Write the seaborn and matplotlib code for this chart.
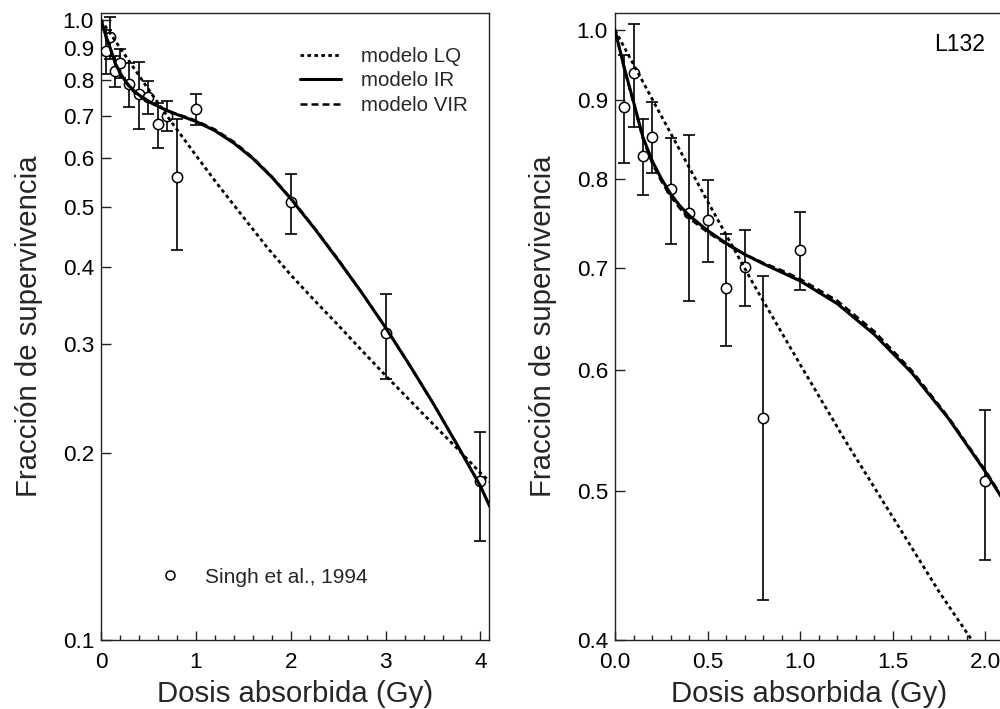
import matplotlib
matplotlib.use("Agg")
import matplotlib.pyplot as plt
from matplotlib.ticker import FixedLocator, NullLocator, MultipleLocator, FixedFormatter
from matplotlib.lines import Line2D
import seaborn as sns
import pandas as pd

# ---- experimental data (Singh et al., 1994) ----
dose = [0.05, 0.1, 0.15, 0.2, 0.3, 0.4, 0.5, 0.6, 0.7, 0.8, 1.0, 2.0, 3.0, 4.0]
surv = [0.891, 0.937, 0.828, 0.852, 0.788, 0.760, 0.752, 0.679, 0.701, 0.558, 0.719, 0.508, 0.313, 0.1805]
err = [0.072, 0.073, 0.047, 0.045, 0.063, 0.094, 0.046, 0.057, 0.040, 0.133, 0.042, 0.057, 0.049, 0.036]

# ---- model curves ----
lq_dose = [0, 0.25, 0.5, 0.75, 1.0, 1.25, 1.5, 1.75, 2.0, 2.25, 2.5, 2.75, 3.0, 3.25, 3.5, 3.75, 4.0, 4.1]
lq_surv = [1.0, 0.879, 0.773, 0.682, 0.605, 0.538, 0.481, 0.430, 0.388, 0.353, 0.322, 0.293,
           0.267, 0.244, 0.223, 0.204, 0.186, 0.180]

ir_dose = [0, 0.05, 0.1, 0.15, 0.2, 0.25, 0.3, 0.35, 0.4, 0.5, 0.6, 0.7, 0.8, 0.9, 1.0,
           1.2, 1.4, 1.6, 1.8, 2.0, 2.25, 2.5, 2.75, 3.0, 3.25, 3.5, 3.75, 4.0, 4.1]
ir_surv = [1.0, 0.945, 0.898, 0.852, 0.822, 0.800, 0.782, 0.768, 0.757, 0.740, 0.726, 0.714, 0.704,
           0.695, 0.686, 0.663, 0.633, 0.598, 0.558, 0.515, 0.461, 0.410, 0.363, 0.319, 0.278,
           0.241, 0.207, 0.177, 0.164]

vir_dose = [0, 0.05, 0.1, 0.15, 0.2, 0.25, 0.3, 0.35, 0.4, 0.5, 0.6, 0.7, 0.8, 0.9, 1.0,
            1.2, 1.4, 1.6, 1.8, 2.0, 2.25, 2.5, 2.75, 3.0, 3.25, 3.5, 3.75, 4.0, 4.1]
vir_surv = [1.0, 0.944, 0.896, 0.850, 0.819, 0.797, 0.779, 0.765, 0.754, 0.738, 0.725, 0.714, 0.705,
            0.697, 0.688, 0.666, 0.636, 0.600, 0.559, 0.516, 0.462, 0.411, 0.363, 0.319, 0.278,
            0.241, 0.207, 0.177, 0.164]

left_yticks = [0.1, 0.2, 0.3, 0.4, 0.5, 0.6, 0.7, 0.8, 0.9, 1.0]
left_yticklabels = ["0.1", "0.2", "0.3", "0.4", "0.5", "0.6", "0.7", "0.8", "0.9", "1.0"]
right_yticks = [0.4, 0.5, 0.6, 0.7, 0.8, 0.9, 1.0]
right_yticklabels = ["0.4", "0.5", "0.6", "0.7", "0.8", "0.9", "1.0"]
left_xticks = [0, 1, 2, 3, 4]
left_xticklabels = ["0", "1", "2", "3", "4"]
right_xticks = [0.0, 0.5, 1.0, 1.5, 2.0]
right_xticklabels = ["0.0", "0.5", "1.0", "1.5", "2.0"]

sns.set_theme(style="ticks")
plt.rcParams["font.family"] = ["Liberation Sans", "DejaVu Sans"]
plt.rcParams["axes.edgecolor"] = "#222222"
plt.rcParams["axes.linewidth"] = 1.0

fig = plt.figure(figsize=(10, 7.09), dpi=100)
axL = fig.add_axes([0.101, 0.0973, 0.388, 0.8843])
axR = fig.add_axes([0.615, 0.0973, 0.389, 0.8843])

df_data = pd.DataFrame({"dose": dose, "surv": surv, "err": err})
df_lq = pd.DataFrame({"dose": lq_dose, "surv": lq_surv})
df_ir = pd.DataFrame({"dose": ir_dose, "surv": ir_surv})
df_vir = pd.DataFrame({"dose": vir_dose, "surv": vir_surv})

dotted = (0, (1.3, 1.2))
dashed = (0, (2.8, 1.6))

for ax in (axL, axR):
    ax.set_yscale("log")
    ax.errorbar(df_data["dose"], df_data["surv"], yerr=df_data["err"], fmt="none",
                ecolor="black", elinewidth=1.2, capsize=4, capthick=1.2, zorder=2)
    sns.scatterplot(data=df_data, x="dose", y="surv", ax=ax, marker="o", s=55,
                    facecolor="white", edgecolor="black", linewidth=1.1, zorder=3)
    sns.lineplot(data=df_lq, x="dose", y="surv", ax=ax, color="black", lw=2.0,
                 linestyle=dotted, errorbar=None, zorder=4, label="modelo LQ")
    sns.lineplot(data=df_ir, x="dose", y="surv", ax=ax, color="black", lw=2.2,
                 errorbar=None, zorder=5, label="modelo IR")
    sns.lineplot(data=df_vir, x="dose", y="surv", ax=ax, color="black", lw=1.8,
                 linestyle=dashed, errorbar=None, zorder=6, label="modelo VIR")
    ax.yaxis.set_minor_locator(NullLocator())
    ax.tick_params(axis="both", which="both", direction="in", top=False, right=False,
                   colors="#222222", labelcolor="black", labelsize=16.2)
    ax.tick_params(axis="y", which="major", length=7, width=1.0, pad=5)
    ax.tick_params(axis="x", which="major", length=6.5, width=1.0, pad=8.5)
    ax.tick_params(axis="x", which="minor", length=3.5, width=1.0)
    ax.set_xlabel("Dosis absorbida (Gy)", fontsize=21.2, labelpad=5)
    ax.set_ylabel("Fracción de supervivencia", fontsize=21.2, labelpad=14)
    for s in ax.spines.values():
        s.set_linewidth(1.0)

axL.set_xlim(0, 4.09)
axL.set_ylim(0.1, 1.026)
axL.yaxis.set_major_locator(FixedLocator(left_yticks))
axL.yaxis.set_major_formatter(FixedFormatter(left_yticklabels))
axL.xaxis.set_major_locator(FixedLocator(left_xticks))
axL.xaxis.set_major_formatter(FixedFormatter(left_xticklabels))
axL.xaxis.set_minor_locator(MultipleLocator(0.2))

axR.set_xlim(0, 2.1)
axR.set_ylim(0.4, 1.026)
axR.yaxis.set_major_locator(FixedLocator(right_yticks))
axR.yaxis.set_major_formatter(FixedFormatter(right_yticklabels))
axR.xaxis.set_major_locator(FixedLocator(right_xticks))
axR.xaxis.set_major_formatter(FixedFormatter(right_xticklabels))
axR.xaxis.set_minor_locator(MultipleLocator(0.1))

# model legend (left panel)
handles, labels = axL.get_legend_handles_labels()
leg = axL.legend(handles, labels, loc="upper left", bbox_to_anchor=(0.513, 0.946),
                 frameon=False, fontsize=14.8, handlelength=2.0, handletextpad=0.95,
                 labelspacing=0.27, borderpad=0, borderaxespad=0)
axL.add_artist(leg)

# data legend
h_data = Line2D([], [], linestyle="none", marker="o", markersize=6.5,
                markerfacecolor="white", markeredgecolor="black", markeredgewidth=1.1)
axL.legend([h_data], ["Singh et al., 1994"], loc="center left",
           bbox_to_anchor=(0.152, 0.1005), frameon=False, fontsize=15.0,
           handlelength=1.0, handletextpad=1.18, borderpad=0, borderaxespad=0)

if axR.get_legend() is not None:
    axR.get_legend().remove()
axR.text(0.951, 0.9506, "L132", transform=axR.transAxes, ha="right", va="center",
         fontsize=16.5, color="black")

fig.savefig("out.png", dpi=100)
